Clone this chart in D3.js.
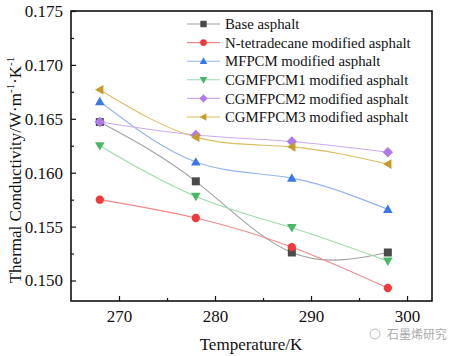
<!DOCTYPE html>
<html><head><meta charset="utf-8">
<script src="https://cdn.jsdelivr.net/npm/d3@7"></script>
<style>body{margin:0;background:#fff}svg{display:block}</style>
</head><body>
<svg id="c" width="457" height="356"></svg>
<script>
const temperatures = [268, 278, 288, 298];
const seriesNames = ["Base asphalt","N-tetradecane modified asphalt","MFPCM modified asphalt","CGMFPCM1 modified asphalt","CGMFPCM2 modified asphalt","CGMFPCM3 modified asphalt"];
const baseAsphalt = [0.1647, 0.1592, 0.1526, 0.1526];
const nTetradecane = [0.1575, 0.1558, 0.1531, 0.1493];
const mfpcm = [0.1666, 0.1610, 0.1595, 0.1566];
const cgmfpcm1 = [0.1625, 0.1578, 0.1549, 0.1518];
const cgmfpcm2 = [0.1647, 0.1635, 0.1629, 0.1619];
const cgmfpcm3 = [0.1677, 0.1633, 0.1624, 0.1608];
const xTicks = [270, 280, 290, 300];
const yTicks = [0.150, 0.155, 0.160, 0.165, 0.170, 0.175];

const seriesValues = [baseAsphalt, nTetradecane, mfpcm, cgmfpcm1, cgmfpcm2, cgmfpcm3];
const markerColors = ["#4a4a4a","#f03a3a","#3a78e8","#48b868","#b07ae8","#c89a28"];
const lineColors = ["#a0a0a0","#f08a8a","#94b4f2","#9cdcaa","#cfaaf4","#dcbc64"];
const shapes = ["square","circle","up","down","diamond","left"];

const svg = d3.select("#c");
const L = 71, R = 432, T = 11, B = 301;
const x = d3.scaleLinear().domain([265, 302.6]).range([L, R]);
const y = d3.scaleLinear().domain([0.1481, 0.175]).range([B, T]);
const font = "'Liberation Serif','Times New Roman',serif";

function marker(g, shape, cx, cy, color, s) {
  let p;
  if (shape === "square") p = `M${cx-s},${cy-s}h${2*s}v${2*s}h${-2*s}Z`;
  else if (shape === "circle") { g.append("circle").attr("cx",cx).attr("cy",cy).attr("r",s*1.05).attr("fill",color); return; }
  else if (shape === "up") p = `M${cx},${cy-s*1.2}L${cx+s*1.2},${cy+s*0.9}L${cx-s*1.2},${cy+s*0.9}Z`;
  else if (shape === "down") p = `M${cx},${cy+s*1.2}L${cx+s*1.2},${cy-s*0.9}L${cx-s*1.2},${cy-s*0.9}Z`;
  else if (shape === "diamond") p = `M${cx},${cy-s*1.3}L${cx+s*1.3},${cy}L${cx},${cy+s*1.3}L${cx-s*1.3},${cy}Z`;
  else if (shape === "left") p = `M${cx-s*1.2},${cy}L${cx+s*0.9},${cy-s*1.2}L${cx+s*0.9},${cy+s*1.2}Z`;
  g.append("path").attr("d", p).attr("fill", color);
}

// axes
const xAxis = d3.axisBottom(x).tickValues(xTicks).tickSize(-5).tickPadding(9).tickFormat(d3.format("d"));
const gx = svg.append("g").attr("transform",`translate(0,${B})`).call(xAxis);
gx.select(".domain").remove();
gx.selectAll("text").attr("font-family",font).attr("font-size",17).attr("fill","#111");
gx.selectAll("line").attr("stroke","#111").attr("stroke-width",1.2);
const gxm = svg.append("g").attr("transform",`translate(0,${B})`).call(d3.axisBottom(x).tickValues([275,285,295]).tickSize(-3).tickFormat(""));
gxm.select(".domain").remove(); gxm.selectAll("line").attr("stroke","#111").attr("stroke-width",1.2);

const yAxis = d3.axisLeft(y).tickValues(yTicks).tickSize(-5).tickPadding(8).tickFormat(d3.format(".3f"));
const gy = svg.append("g").attr("transform",`translate(${L},0)`).call(yAxis);
gy.select(".domain").remove();
gy.selectAll("text").attr("font-family",font).attr("font-size",17).attr("fill","#111");
gy.selectAll("line").attr("stroke","#111").attr("stroke-width",1.2);
const gym = svg.append("g").attr("transform",`translate(${L},0)`).call(d3.axisLeft(y).tickValues([0.1525,0.1575,0.1625,0.1675,0.1725]).tickSize(-3).tickFormat(""));
gym.select(".domain").remove(); gym.selectAll("line").attr("stroke","#111").attr("stroke-width",1.2);

// lines
const line = d3.line().x((d,i)=>x(temperatures[i])).y(d=>y(d)).curve(d3.curveNatural);
seriesValues.forEach((vals, k) => {
  svg.append("path").attr("d", line(vals)).attr("fill","none").attr("stroke",lineColors[k]).attr("stroke-width",1.1);
});
seriesValues.forEach((vals, k) => {
  const g = svg.append("g");
  vals.forEach((v,i) => marker(g, shapes[k], x(temperatures[i]), y(v), markerColors[k], 4));
});

// frame
svg.append("rect").attr("x",L).attr("y",T).attr("width",R-L).attr("height",B-T).attr("fill","none").attr("stroke","#111").attr("stroke-width",1.6);

// legend
const lg = svg.append("g");
seriesNames.forEach((n,k) => {
  const yy = 24 + k*18.6;
  lg.append("line").attr("x1",187).attr("x2",220).attr("y1",yy).attr("y2",yy).attr("stroke",lineColors[k]).attr("stroke-width",1.1);
  marker(lg, shapes[k], 203.5, yy, markerColors[k], 3.2);
  lg.append("text").attr("x",225).attr("y",yy).attr("dy","0.35em").attr("font-family",font).attr("font-size",14.8).attr("fill","#111").text(n);
});

// titles
svg.append("text").attr("x",251).attr("y",350).attr("text-anchor","middle").attr("font-family",font).attr("font-size",17).attr("fill","#111").text("Temperature/K");
const yt = svg.append("text").attr("transform","translate(21,170) rotate(-90)").attr("text-anchor","middle").attr("font-family",font).attr("font-size",17).attr("fill","#111");
yt.append("tspan").text("Thermal Conductivity/W·m");
yt.append("tspan").attr("dy",-7).attr("font-size",11).text("-1");
yt.append("tspan").attr("dy",7).text("·K");
yt.append("tspan").attr("dy",-7).attr("font-size",11).text("-1");

// watermark
const wm = svg.append("g");
wm.append("circle").attr("cx",375).attr("cy",334).attr("r",5).attr("fill","none").attr("stroke","#bbb").attr("stroke-width",1);
wm.append("text").attr("x",387).attr("y",339).attr("font-family","'Noto Sans CJK SC',sans-serif").attr("font-size",12).attr("fill","#aaa").text("石墨烯研究");
</script>
</body></html>
